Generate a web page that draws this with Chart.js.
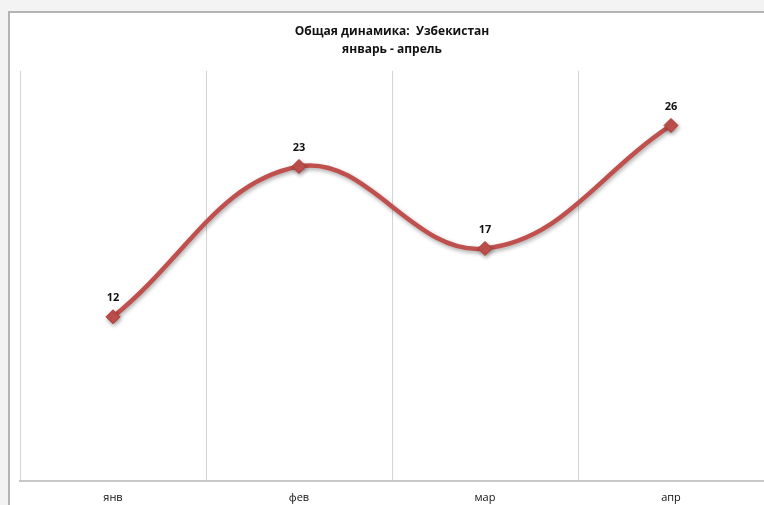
<!DOCTYPE html>
<html>
<head>
<meta charset="utf-8">
<script src="https://cdn.jsdelivr.net/npm/chart.js@4.4.0/dist/chart.umd.min.js"></script>
<style>
  html, body { margin: 0; padding: 0; background: #ffffff; }
  #wrap { position: relative; width: 764px; height: 505px; }
</style>
</head>
<body>
<div id="wrap"><canvas id="trendChart" width="764" height="505"></canvas></div>
<script>
// Data
const months = ['янв', 'фев', 'мар', 'апр'];
const values = [12, 23, 17, 26];
const titleLines = ['Общая динамика:  Узбекистан', 'январь - апрель'];

const lineColor = '#C0504D';

// Outer frame like an Excel chart border
const framePlugin = {
    id: 'frame',
    beforeDraw(chart) {
        const ctx = chart.ctx;
        ctx.save();
        ctx.fillStyle = '#f3f3f3';
        ctx.fillRect(0, 0, chart.width, 11);
        ctx.fillRect(0, 0, 8, chart.height);
        ctx.fillStyle = '#b4b4b4';
        ctx.fillRect(8, 11, chart.width - 8, 2);
        ctx.fillRect(8, 11, 2, chart.height - 11);
        ctx.restore();
    }
};

// Soft shadow under the line
const shadowPlugin = {
    id: 'lineShadow',
    beforeDatasetsDraw(chart) {
        const ctx = chart.ctx;
        ctx.save();
        ctx.shadowColor = 'rgba(0,0,0,0.35)';
        ctx.shadowBlur = 4;
        ctx.shadowOffsetX = 1;
        ctx.shadowOffsetY = 2;
    },
    afterDatasetsDraw(chart) {
        chart.ctx.restore();
    }
};

// Value labels above points
const valueLabels = {
    id: 'valueLabels',
    afterDatasetsDraw(chart) {
        const ctx = chart.ctx;
        const meta = chart.getDatasetMeta(0);
        ctx.save();
        ctx.font = 'bold 11px "Open Sans", sans-serif';
        ctx.fillStyle = '#111111';
        ctx.textAlign = 'center';
        ctx.textBaseline = 'middle';
        meta.data.forEach((pt, i) => {
            ctx.fillText(String(values[i]), pt.x, pt.y - 19);
        });
        ctx.restore();
    }
};

document.addEventListener('DOMContentLoaded', function() {
    const ctx = document.getElementById('trendChart').getContext('2d');
    window.trendChart = new Chart(ctx, {
        type: 'line',
        data: {
            labels: months,
            datasets: [{
                data: values,
                borderColor: lineColor,
                borderWidth: 4.5,
                tension: 0.4,
                cubicInterpolationMode: 'default',
                pointStyle: 'rectRot',
                pointRadius: 7,
                pointBackgroundColor: lineColor,
                pointBorderColor: '#b03a37',
                pointBorderWidth: 1,
                fill: false
            }]
        },
        options: {
            responsive: false,
            animation: false,
            layout: { autoPadding: false, padding: { left: 20, right: 0, top: 0, bottom: -9 } },
            plugins: {
                legend: { display: false },
                tooltip: { enabled: false },
                title: {
                    display: true,
                    text: titleLines,
                    color: '#111111',
                    font: { family: '"Open Sans", sans-serif', size: 12, weight: 'bold', lineHeight: 1.45 },
                    padding: { top: 23, bottom: 13 }
                }
            },
            scales: {
                x: {
                    offset: true,
                    grid: {
                        offset: true,
                        color: '#d4d4d4',
                        lineWidth: 1,
                        drawTicks: false
                    },
                    border: { display: true, color: '#c8c8c8', width: 2 },
                    ticks: {
                        color: '#111111',
                        padding: 10,
                        font: { family: '"Open Sans", sans-serif', size: 11 }
                    },
                    afterFit(scale) {
                        scale.paddingLeft = 0;
                        scale.paddingRight = 0;
                    }
                },
                y: {
                    display: false,
                    min: 0,
                    max: 30
                }
            }
        },
        plugins: [framePlugin, shadowPlugin, valueLabels]
    });
});
</script>
</body>
</html>
